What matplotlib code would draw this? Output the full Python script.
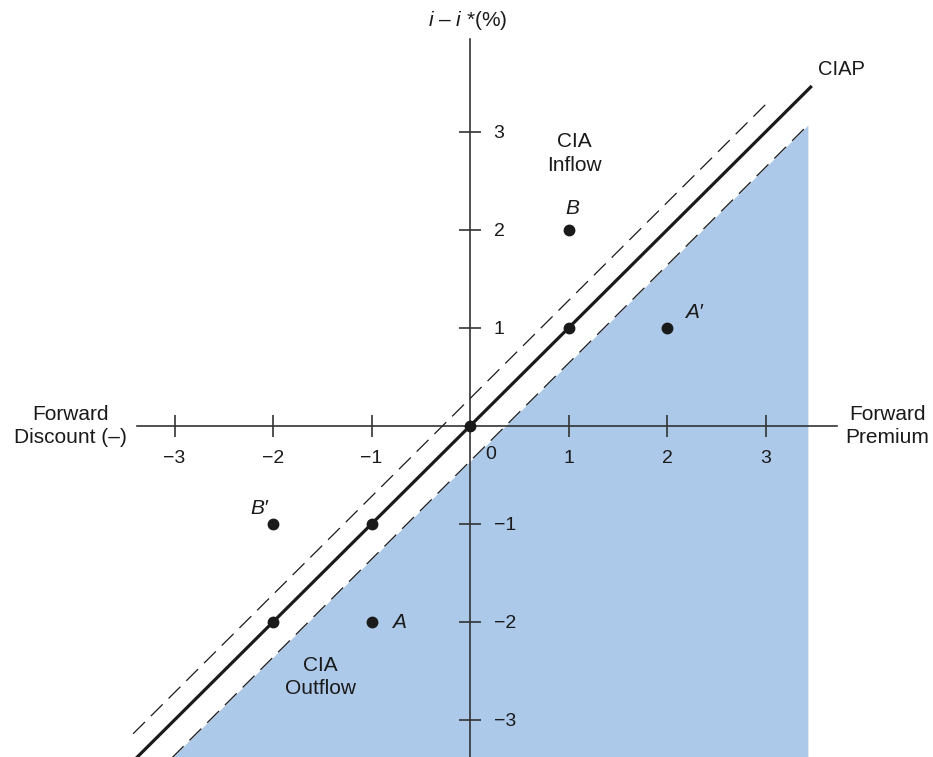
import matplotlib
matplotlib.use("Agg")
import matplotlib.pyplot as plt
import numpy as np

plt.rcParams['font.family'] = ['Liberation Sans', 'DejaVu Sans']
plt.rcParams['lines.scale_dashes'] = False
plt.rcParams['mathtext.fontset'] = 'custom'
plt.rcParams['mathtext.it'] = 'Liberation Sans:italic'
plt.rcParams['mathtext.rm'] = 'Liberation Sans'

# Data
ciap_x = [-3.45, 3.47]            # CIAP line y = x
upper_band_x = [-3.42, 3.05]      # upper transaction-cost band
upper_offset = 0.28
lower_band_x = [-3.05, 3.43]      # lower transaction-cost band
lower_offset = -0.36
ciap_points_x = [-2, -1, 0, 1]
ciap_points_y = [-2, -1, 0, 1]
other_points = {"A": (-1, -2), "B": (1, 2), "A′": (2, 1), "B′": (-2, -1)}
x_ticks = [-3, -2, -1, 1, 2, 3]
x_tick_labels = ["−3", "−2", "−1", "1", "2", "3"]
y_ticks = [-3, -2, -1, 1, 2, 3]
y_tick_labels = ["−3", "−2", "−1", "1", "2", "3"]

W, H = 933, 757
fig = plt.figure(figsize=(W / 100, H / 100), dpi=100)
ax = fig.add_axes([0, 0, 1, 1])
sx, sy = 98.5, 98.0
ox, oy = 470, 426
ax.set_xlim(-ox / sx, (W - ox) / sx)
ax.set_ylim(-(H - oy) / sy, oy / sy)
ybot = -(H - oy) / sy

fs = 14
fs_t = 15
col = '#1a1a1a'

# shading
xs = np.linspace(lower_band_x[0] - 0.1, lower_band_x[1], 200)
ax.fill_between(xs, ybot - 0.2, xs + lower_offset, color='#adc9e9', lw=0, zorder=1)

# lines
cx = np.array(ciap_x)
ax.plot(cx, cx, color=col, lw=2.3, solid_capstyle='butt', zorder=4)
ux = np.array(upper_band_x)
ax.plot(ux, ux + upper_offset, color=col, lw=0.9, dashes=(12, 6), zorder=3)
lx = np.array(lower_band_x)
ax.plot(lx, lx + lower_offset, color=col, lw=0.9, dashes=(12, 6), zorder=3)

# points
ax.plot(ciap_points_x, ciap_points_y, 'o', color=col, ms=7.5, zorder=5)
for k, (px, py) in other_points.items():
    ax.plot(px, py, 'o', color=col, ms=7.5, zorder=5)
label_off = {"A": (0.28, 0.0, 'center', 'center'),
             "B": (0.04, 0.22, 'center', 'center'),
             "A′": (0.27, 0.16, 'center', 'center'),
             "B′": (-0.14, 0.16, 'center', 'center')}
for k, (px, py) in other_points.items():
    dx, dy, ha, va = label_off[k]
    ax.text(px + dx, py + dy, k, style='italic', fontsize=fs_t, ha=ha, va=va, color=col)

# axes via spines
for s in ['top', 'left']:
    ax.spines[s].set_visible(False)
ax.spines['bottom'].set_position(('data', 0))
ax.spines['right'].set_position(('data', 0))
ax.spines['bottom'].set_bounds(-333 / sx, 367 / sx)
ax.spines['right'].set_bounds(ybot, (oy - 39) / sy)
for s in ['bottom', 'right']:
    ax.spines[s].set_color('#333333')
    ax.spines[s].set_linewidth(1.2)
    ax.spines[s].set_zorder(2)
ax.xaxis.set_ticks_position('bottom')
ax.yaxis.set_ticks_position('right')
ax.set_xticks(x_ticks)
ax.set_xticklabels(x_tick_labels)
ax.set_yticks(y_ticks)
ax.set_yticklabels(y_tick_labels)
ax.tick_params(axis='both', direction='inout', length=16, width=1.2, color='#333333',
               labelsize=fs, labelcolor=col)
ax.tick_params(axis='x', pad=9)
ax.tick_params(axis='y', pad=9)
ax.text(0.21, -0.29, "0", fontsize=fs, ha='center', va='center', color=col)

# annotations
ax.text(-4.06, 0, "Forward\nDiscount (–)", fontsize=fs_t, ha='center', va='center',
        color=col, linespacing=1.25)
ax.text(4.24, 0, "Forward\nPremium", fontsize=fs_t, ha='center', va='center',
        color=col, linespacing=1.25)
ax.text(-0.02, 4.14, "$\\mathit{i}$ – $\\mathit{i}$ *(%)", fontsize=fs_t, ha='center',
        va='center', color=col)
ax.text(1.06, 2.78, "CIA\nInflow", fontsize=fs_t, ha='center', va='center', color=col,
        linespacing=1.3)
ax.text(-1.52, -2.56, "CIA\nOutflow", fontsize=fs_t, ha='center', va='center', color=col,
        linespacing=1.3)
ax.text(3.77, 3.64, "CIAP", fontsize=14.5, ha='center', va='center', color=col)

fig.savefig("out.png", dpi=100)
